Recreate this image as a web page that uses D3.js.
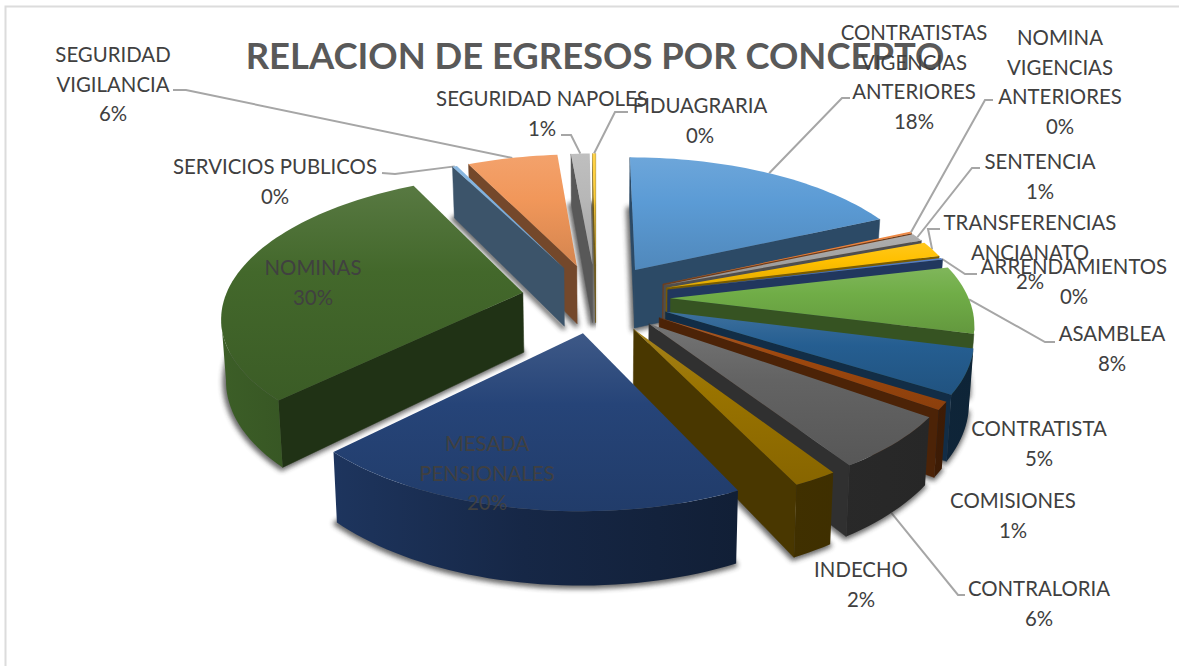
<!DOCTYPE html>
<html>
<head>
<meta charset="utf-8">
<script src="https://d3js.org/d3.v7.min.js"></script>
<style>
  html, body { margin: 0; padding: 0; background: #fff; overflow: hidden; }
  text { font-family: Lato, "Open Sans", sans-serif; }
</style>
</head>
<body>
<div id="chart"></div>
<script>
// values are estimated from the rounded percent labels
var title = "RELACION DE EGRESOS POR CONCEPTO";
var categories = [
  ["CONTRATISTAS", "VIGENCIAS", "ANTERIORES"],
  ["NOMINA", "VIGENCIAS", "ANTERIORES"],
  ["SENTENCIA"],
  ["TRANSFERENCIAS", "ANCIANATO"],
  ["ARRENDAMIENTOS"],
  ["ASAMBLEA"],
  ["CONTRATISTA"],
  ["COMISIONES"],
  ["CONTRALORIA"],
  ["INDECHO"],
  ["MESADA", "PENSIONALES"],
  ["NOMINAS"],
  ["SERVICIOS PUBLICOS"],
  ["SEGURIDAD", "VIGILANCIA"],
  ["SEGURIDAD NAPOLES"],
  ["FIDUAGRARIA"]
];
var values = [18.2, 0.2, 0.9, 1.8, 0.2, 7.7, 5, 0.9, 6, 2, 19.7, 30, 0.3, 5.8, 1.2, 0.2];
var colors = ["#5b9bd5", "#ed7d31", "#a5a5a5", "#ffc000", "#4472c4", "#70ad47", "#255e91", "#9e480e",
              "#636363", "#997300", "#264478", "#43682b", "#7cafdd", "#f1975a", "#b7b7b7", "#ffcd33"];

// label placement: centre x and y of the first line, then the leader's elbow and its end at the label
var labelX = [914, 1060, 1040, 1030, 1074, 1112, 1039, 1013, 1039, 861, 487, 313, 275, 113, 542, 700];
var labelY = [33, 38, 162, 223, 267, 334, 429, 501, 589, 570, 444, 268, 167, 55, 99, 106];
var leaders = [
  [[842, 98], [850, 98]],
  [[985, 100], [993, 100]],
  [[972, 168], [980, 168]],
  [[928, 229], [940, 229]],
  [[965, 274], [977, 274]],
  [[1045, 342], [1055, 342]],
  null,
  null,
  [[958, 595], [965, 595]],
  null,
  null,
  null,
  [[395, 174], [382, 173]],
  [[186, 90], [173, 90]],
  [[571, 135], [561, 135]],
  [[615, 112], [628, 112]]
];

var width = 1179, height = 666;
var cx = 596, cy = 298;      // pie centre on the top surface
var rx = 298, ry = 138;      // radii of the disc
var depth = 60;              // thickness at the centre
var explode = 0.25;          // how far each slice is pulled out
var persp = 0.155;           // strength of the perspective
var lineH = 29.6;

var svg = d3.select("#chart")
  .append("svg")
    .attr("width", width)
    .attr("height", height);

var defs = svg.append("defs");
defs.append("filter")
    .attr("id", "blur")
    .attr("x", "-30%").attr("y", "-30%")
    .attr("width", "160%").attr("height", "160%")
  .append("feGaussianBlur")
    .attr("stdDeviation", 2.5);

// chart border, only the top and left edges fall inside the picture
svg.append("rect")
    .attr("x", 5.5).attr("y", 6.5)
    .attr("width", 1300).attr("height", 800)
    .attr("fill", "none")
    .attr("stroke", "#dcdcdc")
    .attr("stroke-width", 2);

var color = d3.scaleOrdinal().domain(d3.range(values.length)).range(colors);
var toX = d3.scaleLinear().domain([-1, 1]).range([-rx, rx]);
var toY = d3.scaleLinear().domain([-1, 1]).range([-ry, ry]);
var line = d3.line();
var total = d3.sum(values);

var arcs = d3.pie().sort(null)(values);

// u is to the right, v is towards the viewer; bottom=true gives the underside
function project(u, v, bottom) {
  var s = 1 / (1 - persp * v);
  var b = bottom ? 0.987 : 1;
  return [cx + toX(u) * s * b, cy + toY(v) * s + (bottom ? depth * s : 0)];
}

function polar(arc, r, a) {
  var mid = (arc.startAngle + arc.endAngle) / 2;
  return {
    u: explode * Math.sin(mid) + r * Math.sin(a),
    v: -explode * Math.cos(mid) - r * Math.cos(a)
  };
}

function rimPoints(arc) {
  var n = Math.max(1, Math.ceil((arc.endAngle - arc.startAngle) / 0.03));
  return d3.range(n + 1).map(function(i) {
    return polar(arc, 1, arc.startAngle + (arc.endAngle - arc.startAngle) * i / n);
  });
}

function pt(p, bottom) { return project(p.u, p.v, bottom); }

// an edge of the top shows a wall if the slice interior lies above it
function wallVisible(a, b, inner) {
  var c1 = (b[0] - a[0]) * (inner[1] - a[1]) - (b[1] - a[1]) * (inner[0] - a[0]);
  var c2 = (b[0] - a[0]);
  return c1 * c2 < 0;
}

function shade(c, t) { return d3.interpolateRgb(c, "#000")(t); }
function tint(c, t) { return d3.interpolateRgb(c, "#fff")(t); }

arcs.forEach(function(arc, i) {
  var c = color(i);
  var g = defs.append("linearGradient")
      .attr("id", "top" + i)
      .attr("x1", 0).attr("y1", 0).attr("x2", 0).attr("y2", 1);
  g.append("stop").attr("offset", "0%").attr("stop-color", tint(c, 0.11));
  g.append("stop").attr("offset", "40%").attr("stop-color", c);
  g.append("stop").attr("offset", "100%").attr("stop-color", shade(c, 0.12));

  // the rims get darker from the left of the pie to the right
  var r = defs.append("linearGradient")
      .attr("id", "rim" + i)
      .attr("gradientUnits", "userSpaceOnUse")
      .attr("x1", 220).attr("y1", 0).attr("x2", 980).attr("y2", 0);
  r.append("stop").attr("offset", "0%").attr("stop-color", shade(c, 0.1));
  r.append("stop").attr("offset", "40%").attr("stop-color", shade(c, 0.42));
  r.append("stop").attr("offset", "75%").attr("stop-color", shade(c, 0.58));
  r.append("stop").attr("offset", "100%").attr("stop-color", shade(c, 0.62));
});

// leaders sit under the slices so they end at the slice edge
var leaderG = svg.append("g");
arcs.forEach(function(arc, i) {
  if (!leaders[i]) return;
  var mid = (arc.startAngle + arc.endAngle) / 2;
  var start = pt(polar(arc, 1, mid), i == 8);
  leaderG.append("path")
      .attr("d", line([start, leaders[i][0], leaders[i][1]]))
      .attr("fill", "none")
      .attr("stroke", "#a6a6a6")
      .attr("stroke-width", 2);
});

// painter's order: back slices first
var order = d3.range(arcs.length).sort(function(a, b) {
  var ma = (arcs[a].startAngle + arcs[a].endAngle) / 2;
  var mb = (arcs[b].startAngle + arcs[b].endAngle) / 2;
  return d3.ascending(-Math.cos(ma), -Math.cos(mb));
});

var pieG = svg.append("g");
order.forEach(function(i) {
  var arc = arcs[i];
  var rim = rimPoints(arc);
  var apex = polar(arc, 0, 0);
  var mid = polar(arc, 0.5, (arc.startAngle + arc.endAngle) / 2);
  var inner = pt(mid, false);
  var c = color(i);
  var wall = shade(c, 0.52);
  var slice = pieG.append("g").attr("class", "slice");

  // soft shadow from the underside
  var under = [pt(apex, true)].concat(rim.map(function(p) { return pt(p, true); }));
  slice.append("path")
      .attr("d", line(under) + "Z")
      .attr("transform", "translate(-1,1)")
      .attr("fill", "#333")
      .attr("stroke", "#333")
      .attr("stroke-width", 5)
      .attr("stroke-linejoin", "round")
      .attr("opacity", 0.72)
      .attr("filter", "url(#blur)");

  // the two flat walls
  [rim[0], rim[rim.length - 1]].forEach(function(p) {
    if (!wallVisible(pt(apex), pt(p), inner)) return;
    slice.append("path")
        .attr("d", line([pt(apex), pt(p), pt(p, true), pt(apex, true)]) + "Z")
        .attr("fill", wall)
        .attr("stroke", wall)
        .attr("stroke-width", 0.5);
  });

  // the outer rim, only the run that faces the viewer
  var run = rim.filter(function(p, j) {
    var next = rim[j + 1], prev = rim[j - 1];
    if (next && wallVisible(pt(p), pt(next), inner)) return true;
    if (prev && wallVisible(pt(prev), pt(p), inner)) return true;
    return false;
  });
  if (run.length > 1) {
    var top = run.map(function(p) { return pt(p); });
    var low = run.map(function(p) { return pt(p, true); }).reverse();
    slice.append("path")
        .attr("d", line(top.concat(low)) + "Z")
        .attr("fill", "url(#rim" + i + ")");
  }

  // top face
  slice.append("path")
      .attr("d", line([pt(apex)].concat(rim.map(function(p) { return pt(p); }))) + "Z")
      .attr("fill", "url(#top" + i + ")");
});

// title
svg.append("text")
    .attr("x", 595)
    .attr("y", 69)
    .attr("text-anchor", "middle")
    .attr("font-size", 36.4)
    .attr("font-weight", 700)
    .attr("fill", "#595959")
    .text(title);

// data labels
categories.forEach(function(lines, i) {
  var pct = Math.round(values[i] / total * 100) + "%";
  var label = svg.append("text")
      .attr("text-anchor", "middle")
      .attr("font-size", 20.4)
      .attr("fill", "#404040");
  lines.concat([pct]).forEach(function(t, j) {
    label.append("tspan")
        .attr("x", labelX[i])
        .attr("y", labelY[i] + 7 + j * lineH)
        .text(t);
  });
});
</script>
</body>
</html>
